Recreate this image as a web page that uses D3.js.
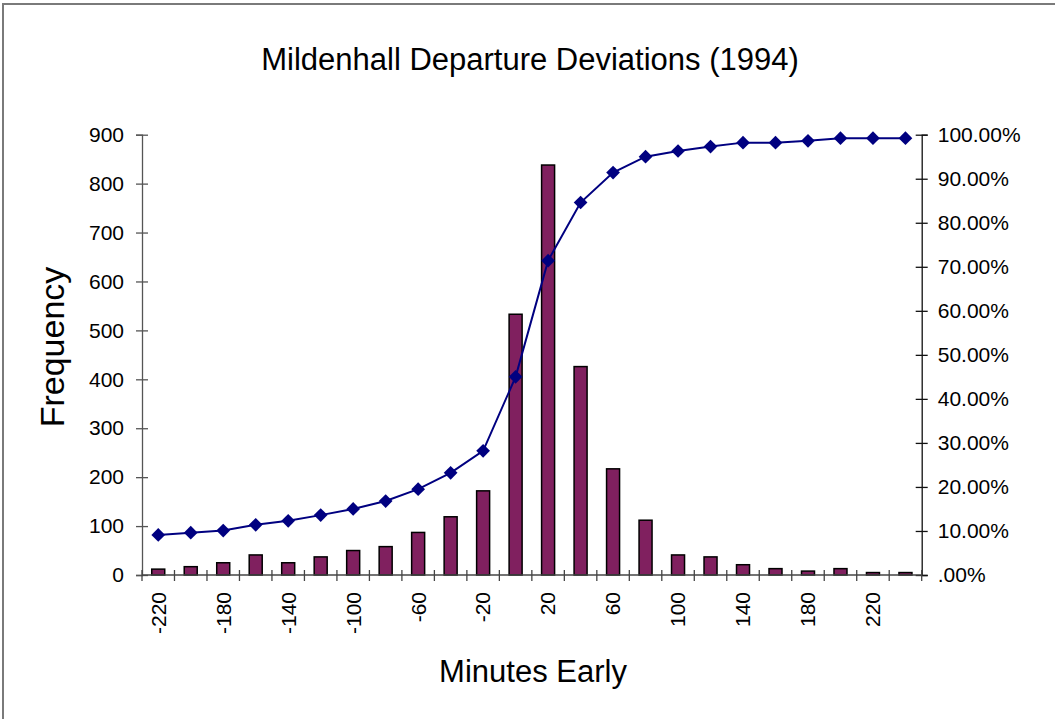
<!DOCTYPE html>
<html>
<head>
<meta charset="utf-8">
<script src="https://cdn.jsdelivr.net/npm/d3@7"></script>
<style>
  html, body { margin: 0; padding: 0; background: #fff; }
  svg { display: block; font-family: "Liberation Sans", Arial, sans-serif; }
</style>
</head>
<body>
<svg id="chart" width="1055" height="719"></svg>
<script>
// ---- data ----
const categories = [-220,-200,-180,-160,-140,-120,-100,-80,-60,-40,-20,0,20,40,60,80,100,120,140,160,180,200,220,240];
const frequency = [12,17,25,41,25,37,50,58,87,119,172,533,838,426,217,112,41,37,21,13,8,13,5,5];
const cumulativePct = [0.091,0.096,0.101,0.114,0.123,0.136,0.150,0.168,0.195,0.232,0.282,0.450,0.714,0.846,0.914,0.950,0.963,0.973,0.982,0.982,0.986,0.992,0.992,0.992];
const xTickLabels = [-220,-180,-140,-100,-60,-20,20,60,100,140,180,220];
const freqTicks = [0,100,200,300,400,500,600,700,800,900];
const pctTicks = [0,0.1,0.2,0.3,0.4,0.5,0.6,0.7,0.8,0.9,1.0];

const title = "Mildenhall Departure Deviations (1994)";
const xTitle = "Minutes Early";
const yTitle = "Frequency";

// ---- layout ----
const svg = d3.select("#chart");
const L = 142, R = 921.7, T = 134.7, B = 575;

// chart border (top + left visible)
svg.append("rect").attr("x", 3).attr("y", 4).attr("width", 1200).attr("height", 900)
  .attr("fill", "none").attr("stroke", "#7a7a7a").attr("stroke-width", 2);

const x = d3.scaleBand().domain(categories).range([L, R]).paddingInner(0.6).paddingOuter(0.3);
const y = d3.scaleLinear().domain([0, 900]).range([B, T]);
const y2 = d3.scaleLinear().domain([0, 1]).range([B, T]);

// title
svg.append("text").attr("x", 530).attr("y", 70).attr("text-anchor", "middle")
  .attr("font-size", 31).attr("fill", "#000").text(title);

// bars
svg.append("g").selectAll("rect").data(categories).join("rect")
  .attr("x", d => x(d))
  .attr("y", (d, i) => y(frequency[i]))
  .attr("width", x.bandwidth())
  .attr("height", (d, i) => B - y(frequency[i]))
  .attr("fill", "#80205f").attr("stroke", "#000").attr("stroke-width", 1.5);

// left axis
const gl = svg.append("g").attr("transform", `translate(${L},0)`)
  .call(d3.axisLeft(y).tickValues(freqTicks).tickSize(6).tickPadding(12));
gl.select(".domain").attr("stroke", "#555").attr("stroke-width", 1.3);
gl.selectAll(".tick line").attr("x1", 6).attr("stroke", "#555").attr("stroke-width", 1.3);
gl.selectAll(".tick text").attr("font-size", 21).attr("fill", "#000")
  .attr("font-family", "Liberation Sans, Arial, sans-serif");

// right axis
const gr = svg.append("g").attr("transform", `translate(${R},0)`)
  .call(d3.axisRight(y2).tickValues(pctTicks).tickSize(6).tickPadding(10)
    .tickFormat(v => v === 0 ? ".00%" : d3.format(".2%")(v)));
gr.select(".domain").attr("stroke", "#111").attr("stroke-width", 1.3);
gr.selectAll(".tick line").attr("x1", -6).attr("stroke", "#111").attr("stroke-width", 1.3);
gr.selectAll(".tick text").attr("font-size", 21).attr("fill", "#000")
  .attr("font-family", "Liberation Sans, Arial, sans-serif");

// bottom axis line + boundary ticks
const boundaries = d3.range(categories.length + 1).map(i => L + i * x.step());
svg.append("line").attr("x1", L).attr("x2", R).attr("y1", B).attr("y2", B)
  .attr("stroke", "#444").attr("stroke-width", 1.3);
svg.append("g").selectAll("line").data(boundaries).join("line")
  .attr("x1", d => d).attr("x2", d => d).attr("y1", B - 5).attr("y2", B + 6)
  .attr("stroke", "#444").attr("stroke-width", 1.3);

// x tick labels (rotated)
const gb = svg.append("g").attr("transform", `translate(0,${B})`)
  .call(d3.axisBottom(x).tickValues(xTickLabels).tickSize(0).tickPadding(0));
gb.select(".domain").remove();
gb.selectAll(".tick text")
  .attr("font-size", 21).attr("fill", "#000")
  .attr("font-family", "Liberation Sans, Arial, sans-serif")
  .attr("text-anchor", "end")
  .attr("dy", "0.35em")
  .attr("transform", "translate(0,17) rotate(-90)")
  .attr("x", 0).attr("y", 0);

// cumulative line
const cx = d => x(d) + x.bandwidth() / 2;
const line = d3.line().x((d, i) => cx(categories[i])).y(d => y2(d));
svg.append("path").datum(cumulativePct).attr("d", line)
  .attr("fill", "none").attr("stroke", "#000080").attr("stroke-width", 2);
svg.append("g").selectAll("path").data(cumulativePct).join("path")
  .attr("d", d3.symbol().type(d3.symbolDiamond2).size(120))
  .attr("transform", (d, i) => `translate(${cx(categories[i])},${y2(d)})`)
  .attr("fill", "#000080");

// axis titles
svg.append("text").attr("x", 533).attr("y", 682).attr("text-anchor", "middle")
  .attr("font-size", 31).attr("fill", "#000").text(xTitle);
svg.append("text").attr("transform", "translate(64,347) rotate(-90)").attr("text-anchor", "middle")
  .attr("font-size", 34).attr("fill", "#000").text(yTitle);
</script>
</body>
</html>
